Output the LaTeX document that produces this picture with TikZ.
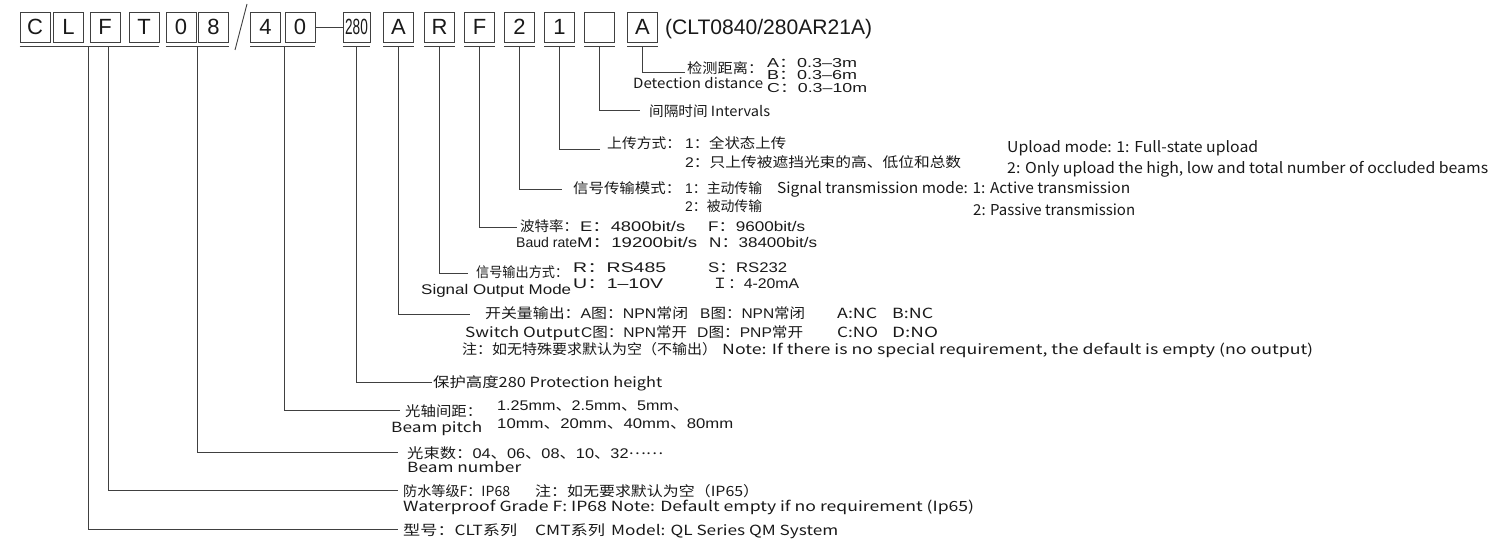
\documentclass[tikz,border=0pt]{standalone}
\usepackage{fontspec}
\usepackage{graphicx}
\setmainfont{Noto Sans CJK SC}
\newfontfamily\zh{Noto Sans CJK SC}
\newfontfamily\arl{Liberation Sans}
\newsavebox\fwbox
\makeatletter
\newcommand\fw[2]{\sbox\fwbox{#2}\edef\fwscale{\strip@pt\dimexpr #1pt*65536/\wd\fwbox\relax}\scalebox{\fwscale}[1]{\usebox\fwbox}}
\makeatother
\newcommand\zc[1]{{\zh #1}}
\tikzset{
  box/.style={draw=black!75, line width=0.9pt, minimum width=30pt, minimum height=30pt, inner sep=0pt, text=black!90, font=\arl\fontsize{22}{22}\selectfont},
  lbl/.style={anchor=base west, inner sep=0pt, text=black!90, font=\fontsize{14}{16}\selectfont},
  ar/.style={font=\arl\fontsize{14}{16}\selectfont},
  arsm/.style={font=\arl\fontsize{13}{15}\selectfont},
  en/.style={font=\fontsize{15}{17}\selectfont},
  codetxt/.style={anchor=base west, inner sep=0pt, text=black!90, font=\arl\fontsize{21}{21}\selectfont},
  ln/.style={draw=black!75, line width=0.9pt},
}
\begin{document}
\begin{tikzpicture}[x=1pt,y=-1pt]
\useasboundingbox (0,0) rectangle (1503,538);
% code boxes
\node[box] (bC) at (35,27) {C};
\node[box] (bL) at (68.5,27) {L};
\node[box] (bF) at (105,27) {F};
\node[box] (bT) at (144,27) {T};
\node[box] (b0) at (181,27) {0};
\node[box] (b8) at (213.5,27) {8};
\node[box] (b4) at (265.5,27) {4};
\node[box] (b0b) at (300,27) {0};
\node[box, minimum width=27pt] (b280) at (356.5,27) {\scalebox{0.62}[1]{280}};
\node[box] (bA) at (398.5,27) {A};
\node[box] (bR) at (439.5,27) {R};
\node[box] (bF2) at (479.5,27) {F};
\node[box] (b2) at (519.5,27) {2};
\node[box] (b1) at (559.5,27) {1};
\node[box] (bX) at (599.5,27) {};
\node[box] (bA2) at (642.5,27) {A};
\node[codetxt] (tCode) at (665,34.5) {\fw{207}{(CLT0840/280AR21A)}};
% slash and dash
\coordinate (s1) at (247,4);
\coordinate (s2) at (235,50);
\draw[ln] (s1) -- (s2);
\draw[ln] (b0b.east) -- (b280.west);
% underlines
\draw[ln] ([yshift=-4pt]bC.south west) -- ([yshift=-4pt]bT.south east);
\draw[ln] ([yshift=-4pt]b0.south west) -- ([yshift=-4pt]b8.south east);
\draw[ln] ([yshift=-4pt]b4.south west) -- ([yshift=-4pt]b0b.south east);
\foreach \b in {b280,bA,bR,bF2,b2,b1,bX,bA2}{
  \draw[ln] ([yshift=-4pt]\b.south west) -- ([yshift=-4pt]\b.south east);
}
\coordinate (u) at (0,46);
\coordinate (vM) at (88,46);
\coordinate (vW) at (108,46);
% end points of connectors
\coordinate (eDet) at (685,72);
\coordinate (eInt) at (640,110);
\coordinate (eUp) at (600,149);
\coordinate (eST) at (562,189);
\coordinate (eB) at (517,227);
\coordinate (eSO) at (468,273);
\coordinate (eSW) at (470,314);
\coordinate (eP) at (432,382);
\coordinate (eBP) at (400,410);
\coordinate (eBN) at (398,452);
\coordinate (eW) at (398,490);
\coordinate (eM) at (398,529);
% connectors
\draw[ln] (bA2.south |- u) |- (eDet);
\draw[ln] (bX.south |- u) |- (eInt);
\draw[ln] (b1.south |- u) |- (eUp);
\draw[ln] (b2.south |- u) |- (eST);
\draw[ln] (bF2.south |- u) |- (eB);
\draw[ln] (bR.south |- u) |- (eSO);
\draw[ln] (bA.south |- u) |- (eSW);
\draw[ln] (b280.south |- u) |- (eP);
\coordinate (vBP) at (284,46);
\coordinate (vBN) at (197,46);
\draw[ln] (vBP) |- (eBP);
\draw[ln] (vBN) |- (eBN);
\draw[ln] (vW) |- (eW);
\draw[ln] (vM) |- (eM);
% detection distance
\node[lbl] (tDet) at (687,73) {\fw{76}{检测距离：}};
\node[lbl] (tDetE) at (633,88) {\fw{130}{Detection distance}};
\node[lbl,arsm] (tDa) at (767,67) {\fw{90}{A\zc{：}0.3–3m}};
\node[lbl,arsm] (tDb) at (767,79.5) {\fw{90}{B\zc{：}0.3–6m}};
\node[lbl,arsm] (tDc) at (767,92) {\fw{100}{C\zc{：}0.3–10m}};
% intervals
\node[lbl] (tInt) at (649,116) {\fw{121}{间隔时间 Intervals}};
% upload
\node[lbl] (tUp) at (607,148) {\fw{74}{上传方式：}};
\node[lbl,ar] (tUp1) at (685,148) {\fw{101}{1\zc{：全状态上传}}};
\node[lbl,ar] (tUp2) at (685,167) {\fw{276}{2\zc{：只上传被遮挡光束的高、低位和总数}}};
\node[lbl,en] (tUpE1) at (1007,152) {\fw{251}{Upload mode: 1: Full-state upload}};
\node[lbl,en] (tUpE2) at (1007,173) {\fw{481}{2: Only upload the high, low and total number of occluded beams}};
% signal transmission
\node[lbl] (tST) at (573,193) {\fw{108}{信号传输模式：}};
\node[lbl,ar] (tST1) at (685,193) {\fw{77}{1\zc{：主动传输}}};
\node[lbl,ar] (tST2) at (685,211) {\fw{77}{2\zc{：被动传输}}};
\node[lbl,en] (tSTE1) at (777,193) {\fw{353}{Signal transmission mode: 1: Active transmission}};
\node[lbl,en] (tSTE2) at (973,215) {\fw{162}{2: Passive transmission}};
% baud rate
\node[lbl] (tB) at (520,231) {\fw{58}{波特率：}};
\node[lbl,ar] (tB1) at (580,231) {\fw{105}{E\zc{：}4800bit/s}};
\node[lbl,ar] (tB2) at (708,231) {\fw{97}{F\zc{：}9600bit/s}};
\node[lbl,ar] (tBE) at (516,247) {\fw{61}{Baud rate}};
\node[lbl,ar] (tB3) at (577,247) {\fw{120}{M\zc{：}19200bit/s}};
\node[lbl,ar] (tB4) at (709,247) {\fw{108}{N\zc{：}38400bit/s}};
% signal output
\node[lbl] (tSO) at (476,277) {\fw{92}{信号输出方式：}};
\node[lbl,ar] (tSO1) at (573,272) {\fw{93}{R\zc{：}RS485}};
\node[lbl,ar] (tSO2) at (573,288) {\fw{90}{U\zc{：}1–10V}};
\node[lbl,ar] (tSO3) at (708,272) {\fw{79}{S\zc{：}RS232}};
\node[lbl,ar] (tSO4) at (712,288) {\fw{87}{\zc{Ｉ：}4-20mA}};
\node[lbl,ar] (tSOE) at (421,294) {\fw{150}{Signal Output Mode}};
% switch output
\node[lbl,ar] (tSW) at (485,318) {\fw{203}{\zc{开关量输出：}A\zc{图：}NPN\zc{常闭}}};
\node[lbl,ar] (tSW2) at (700,318) {\fw{105}{B\zc{图：}NPN\zc{常闭}}};
\node[lbl] (tSW3) at (837,318) {\fw{40}{A:NC}};
\node[lbl] (tSW4) at (892,318) {\fw{41}{B:NC}};
\node[lbl] (tSWE) at (465,337) {\fw{115}{Switch Output}};
\node[lbl,ar] (tSW5) at (581,337) {\fw{106}{C\zc{图：}NPN\zc{常开}}};
\node[lbl,ar] (tSW6) at (697,337) {\fw{106}{D\zc{图：}PNP\zc{常开}}};
\node[lbl] (tSW7) at (837,337) {\fw{41}{C:NO}};
\node[lbl] (tSW8) at (892,337) {\fw{46}{D:NO}};
\node[lbl] (tSW9) at (462,354) {\fw{255}{注：如无特殊要求默认为空（不输出）}};
\node[lbl] (tSW10) at (722,354) {\fw{591}{Note: If there is no special requirement, the default is empty (no output)}};
% protection height
\node[lbl] (tP) at (433,387) {\fw{229}{保护高度280 Protection height}};
% beam pitch
\node[lbl] (tBP) at (405,416) {\fw{77}{光轴间距：}};
\node[lbl] (tBPE) at (391,432) {\fw{91}{Beam pitch}};
\node[lbl,ar] (tBP1) at (497,410) {\fw{192}{1.25mm\zc{、}2.5mm\zc{、}5mm\zc{、}}};
\node[lbl,ar] (tBP2) at (497,428) {\fw{236}{10mm\zc{、}20mm\zc{、}40mm\zc{、}80mm}};
% beam number
\node[lbl,ar] (tBN) at (407,458) {\fw{256}{\zc{光束数：}04\zc{、}06\zc{、}08\zc{、}10\zc{、}32\raisebox{3.5pt}{\zc{……}}}};
\node[lbl] (tBNE) at (407,472) {\fw{114}{Beam number}};
% waterproof
\node[lbl] (tW1) at (403,496) {\fw{107}{防水等级F：IP68}};
\node[lbl] (tW2) at (535,496) {\fw{224}{注：如无要求默认为空（IP65）}};
\node[lbl] (tWE) at (403,511) {\fw{571}{Waterproof Grade F: IP68 Note: Default empty if no requirement (Ip65)}};
% model
\node[lbl] (tM1) at (403,535) {\fw{114}{型号：CLT系列}};
\node[lbl] (tM2) at (535,535) {\fw{70}{CMT系列}};
\node[lbl] (tM3) at (611,535) {\fw{227}{Model: QL Series QM System}};
\end{tikzpicture}
\end{document}
